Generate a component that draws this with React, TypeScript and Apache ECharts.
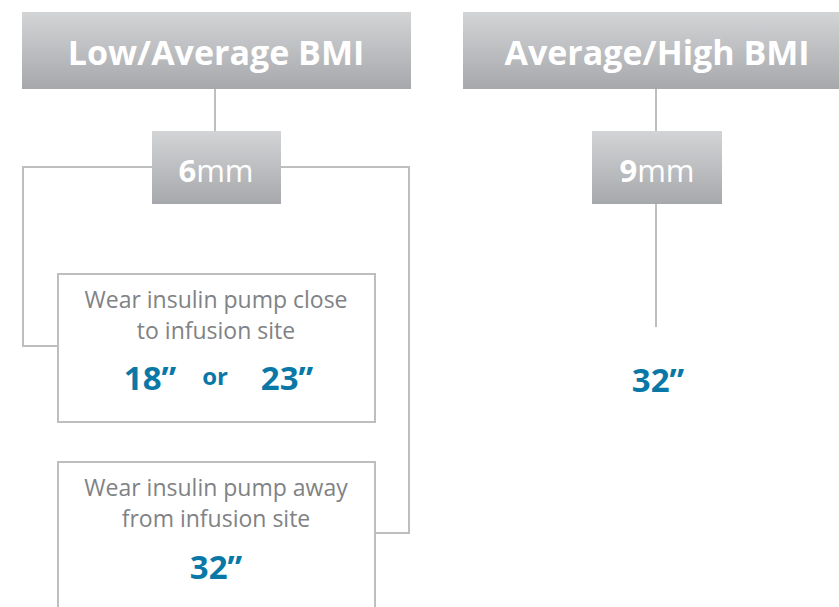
import React, { useEffect, useRef } from "react";
import * as echarts from "echarts";

const groups = ["Low/Average BMI", "Average/High BMI"];
const needleDepth = ["6", "9"];
const needleUnit = "mm";
const closeLabel = ["Wear insulin pump close", "to infusion site"];
const awayLabel = ["Wear insulin pump away", "from infusion site"];
const closeLengths = ['18”', '23”'];
const awayLengths = ['32”'];
const highLengths = ['32”'];
const orWord = "or";

const GREY = "#bcbec0";
const TEXT_GREY = "#808285";
const BLUE = "#0a78a7";
const FONT = "'Open Sans', 'Noto Sans', sans-serif";

const grad = () => ({
  type: "linear", x: 0, y: 0, x2: 0, y2: 1,
  colorStops: [
    { offset: 0, color: "#d3d4d6" },
    { offset: 1, color: "#a6a8ab" },
  ],
});

export default function App() {
  const ref = useRef<HTMLDivElement>(null);
  useEffect(() => {
    const chart = echarts.init(ref.current!, null, { renderer: "svg" });
    const line = (pts: number[][]) => ({
      type: "polyline",
      shape: { points: pts },
      style: { stroke: GREY, lineWidth: 2, fill: null },
      silent: true,
    });
    const rect = (x: number, y: number, w: number, h: number, filled: boolean) => ({
      type: "rect",
      shape: { x, y, width: w, height: h },
      style: filled ? { fill: grad() } : { fill: "#fff", stroke: GREY, lineWidth: 2 },
    });
    const txt = (x: number, y: number, text: string, size: number, color: string, weight: string | number) => ({
      type: "text",
      x, y,
      style: { text, fontSize: size, fill: color, fontWeight: weight, fontFamily: FONT, align: "center", verticalAlign: "middle" },
    });
    const depthText = (x: number, y: number, d: string) => ({
      type: "text",
      x, y,
      style: {
        text: `{b|${d}}{r|${needleUnit}}`,
        align: "center", verticalAlign: "middle",
        rich: {
          b: { fontSize: 31, fontWeight: "bold", fill: "#fff", fontFamily: FONT },
          r: { fontSize: 31, fontWeight: "normal", fill: "#fff", fontFamily: FONT },
        },
      },
    });

    const elements: any[] = [
      // connectors left
      line([[215, 89], [215, 131]]),
      line([[152, 167], [23, 167], [23, 346], [58, 346]]),
      line([[281, 167], [409, 167], [409, 533], [375, 533]]),
      // connectors right
      line([[656, 89], [656, 131]]),
      line([[656, 204], [656, 327]]),
      // headers
      rect(22, 12, 389, 77, true),
      rect(463, 12, 380, 77, true),
      txt(216, 52, groups[0], 34, "#fff", "bold"),
      txt(657, 52, groups[1], 34, "#fff", "bold"),
      // depth boxes
      rect(152, 131, 129, 73, true),
      rect(592, 131, 130, 73, true),
      depthText(216, 170, needleDepth[0]),
      depthText(657, 170, needleDepth[1]),
      // option boxes
      rect(58, 274, 317, 148, false),
      rect(58, 462, 317, 160, false),
      txt(216, 299, closeLabel[0], 23, TEXT_GREY, "normal"),
      txt(216, 330, closeLabel[1], 23, TEXT_GREY, "normal"),
      txt(150, 377, closeLengths[0], 33, BLUE, "bold"),
      txt(215, 375, orWord, 24, BLUE, "bold"),
      txt(287, 377, closeLengths[1], 33, BLUE, "bold"),
      txt(216, 487, awayLabel[0], 23, TEXT_GREY, "normal"),
      txt(216, 518, awayLabel[1], 23, TEXT_GREY, "normal"),
      txt(216, 566, awayLengths[0], 33, BLUE, "bold"),
      txt(658, 379, highLengths[0], 33, BLUE, "bold"),
    ];

    chart.setOption({ animation: false, backgroundColor: "#fff", graphic: { elements } });
    return () => chart.dispose();
  }, []);
  return <div ref={ref} style={{ position: "fixed", left: 0, top: 0, width: 839, height: 607 }} />;
}
